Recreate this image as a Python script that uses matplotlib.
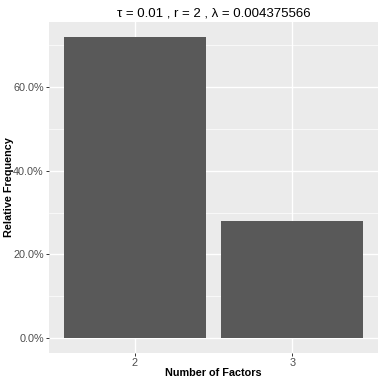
import matplotlib
matplotlib.use("Agg")
import matplotlib.pyplot as plt
from matplotlib.ticker import FixedLocator, FuncFormatter

categories = ["2", "3"]
rel_freq = [0.72, 0.28]
y_ticks = [0.0, 0.2, 0.4, 0.6]
y_minor = [0.1, 0.3, 0.5, 0.7]
title = "τ = 0.01 , r = 2 , λ = 0.004375566"

plt.rcParams['font.family'] = ['Liberation Sans', 'DejaVu Sans']

fig = plt.figure(figsize=(3.82, 3.82), dpi=100)
ax = fig.add_axes([49/382, 29/382, 329/382, 331/382])
ax.set_facecolor("#EBEBEB")

x = list(range(1, len(categories) + 1))
ax.bar(x, rel_freq, width=0.9, color="#595959", zorder=3)

ax.set_xlim(0.455, 2.545)
ax.set_ylim(-0.036, 0.756)
ax.set_xticks(x)
ax.set_xticklabels(categories)
ax.xaxis.set_minor_locator(FixedLocator([]))
ax.set_yticks(y_ticks)
ax.yaxis.set_minor_locator(FixedLocator(y_minor))
ax.yaxis.set_major_formatter(FuncFormatter(lambda v, p: f"{v*100:.1f}%"))

ax.grid(True, which="major", color="white", linewidth=1.0, zorder=0)
ax.grid(True, which="minor", axis="y", color="white", linewidth=0.5, zorder=0)
ax.set_axisbelow(True)
for s in ax.spines.values():
    s.set_visible(False)

ax.tick_params(axis="both", which="major", length=2.5, width=0.7, color="#333333",
               labelcolor="#4D4D4D", labelsize=7.8, pad=1.2)
ax.tick_params(axis="both", which="minor", length=0)

ax.set_xlabel("Number of Factors", fontsize=7.8, fontweight="bold")
ax.xaxis.set_label_coords(0.5, -0.045)
ax.set_ylabel("Relative Frequency", fontsize=7.8, fontweight="bold")
ax.yaxis.set_label_coords(-0.105, 0.5)
ax.set_title(title, fontsize=9.5, pad=4)

fig.savefig("out.png", dpi=100)
